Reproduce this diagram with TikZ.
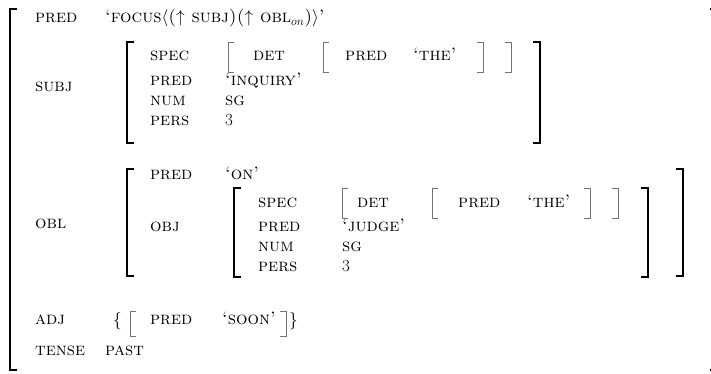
\documentclass[tikz,border=0pt]{standalone}
\usepackage{amsmath}
\usepackage{amssymb}
\usepackage{tikz}
\usetikzlibrary{positioning}

\tikzset{
  feat/.style={anchor=base west, inner sep=0pt, font=\fontsize{18}{20}\selectfont\scshape},
  num/.style={anchor=base west, inner sep=0pt, font=\fontsize{17}{19}\selectfont},
  bigbr/.style={draw=black, line width=1.4pt},
  smallbr/.style={draw=black!55, line width=0.8pt}
}

\begin{document}
\begin{tikzpicture}[x=1pt,y=-1pt]
        \useasboundingbox (0,0) rectangle (711,374);

        % outer matrix
        \draw[bigbr] (17,9) -- (10,9) -- (10,370) -- (17,370);
        \draw[bigbr] (710,9) -- (717,9) -- (717,370) -- (710,370);

        \node[feat] (PRED) at (35,23) {pred};
        \node[feat] (FOCUS) at (105,23) {`focus$\langle$(${\uparrow}$ subj)(${\uparrow}$ obl$_{on}$)$\rangle$'};

        % subj
        \node[feat] (SUBJ) at (35,92) {subj};
        \draw[bigbr] (134,42) -- (127,42) -- (127,143) -- (134,143);
        \draw[bigbr] (533,42) -- (540,42) -- (540,143) -- (533,143);

        \node[feat] (SSPEC) at (150,61) {spec};
        \draw[smallbr] (234,42) -- (228,42) -- (228,72) -- (234,72);
        \node[feat] (SDET) at (253,61) {det};
        \draw[smallbr] (329,42) -- (323,42) -- (323,72) -- (329,72);
        \node[feat] (SDPRED) at (345,61) {pred};
        \node[feat] (STHE) at (413,61) {`the'};
        \draw[smallbr] (477,42) -- (483,42) -- (483,72) -- (477,72);
        \draw[smallbr] (505,42) -- (511,42) -- (511,72) -- (505,72);

        \node[feat] (SPRED) at (150,86) {pred};
        \node[feat] (SINQ) at (225,86) {`inquiry'};
        \node[feat] (SNUM) at (150,106) {num};
        \node[feat] (SSG) at (225,106) {sg};
        \node[feat] (SPERS) at (150,126) {pers};
        \node[num] (S3) at (225,126) {3};

        % obl
        \node[feat] (OBL) at (35,228) {obl};
        \draw[bigbr] (134,169) -- (127,169) -- (127,276) -- (134,276);
        \draw[bigbr] (676,169) -- (683,169) -- (683,276) -- (676,276);

        \node[feat] (OPRED) at (150,179) {pred};
        \node[feat] (OON) at (225,179) {`on'};
        \node[feat] (OBJ) at (150,231) {obj};
        \draw[bigbr] (241,188) -- (234,188) -- (234,277) -- (241,277);
        \draw[bigbr] (641,188) -- (648,188) -- (648,277) -- (641,277);

        \node[feat] (JSPEC) at (258,207) {spec};
        \draw[smallbr] (348,188) -- (342,188) -- (342,218) -- (348,218);
        \node[feat] (JDET) at (357,207) {det};
        \draw[smallbr] (438,188) -- (432,188) -- (432,218) -- (438,218);
        \node[feat] (JDPRED) at (458,207) {pred};
        \node[feat] (JTHE) at (527,207) {`the'};
        \draw[smallbr] (584,188) -- (590,188) -- (590,218) -- (584,218);
        \draw[smallbr] (612,188) -- (618,188) -- (618,218) -- (612,218);

        \node[feat] (JPRED) at (258,231) {pred};
        \node[feat] (JJUDGE) at (342,231) {`judge'};
        \node[feat] (JNUM) at (258,251) {num};
        \node[feat] (JSG) at (342,251) {sg};
        \node[feat] (JPERS) at (258,271) {pers};
        \node[num] (J3) at (342,271) {3};

        % adj
        \node[feat] (ADJ) at (35,324) {adj};
        \node[feat] (LBRACE) at (113,325) {$\{$};
        \draw[smallbr] (136,311) -- (130,311) -- (130,336) -- (136,336);
        \node[feat] (APRED) at (150,324) {pred};
        \node[feat] (ASOON) at (222,324) {`soon'};
        \draw[smallbr] (280,311) -- (286,311) -- (286,336) -- (280,336);
        \node[feat] (RBRACE) at (289,325) {$\}$};

        % tense
        \node[feat] (TENSE) at (35,355) {tense};
        \node[feat] (PAST) at (105,355) {past};
\end{tikzpicture}
\end{document}
